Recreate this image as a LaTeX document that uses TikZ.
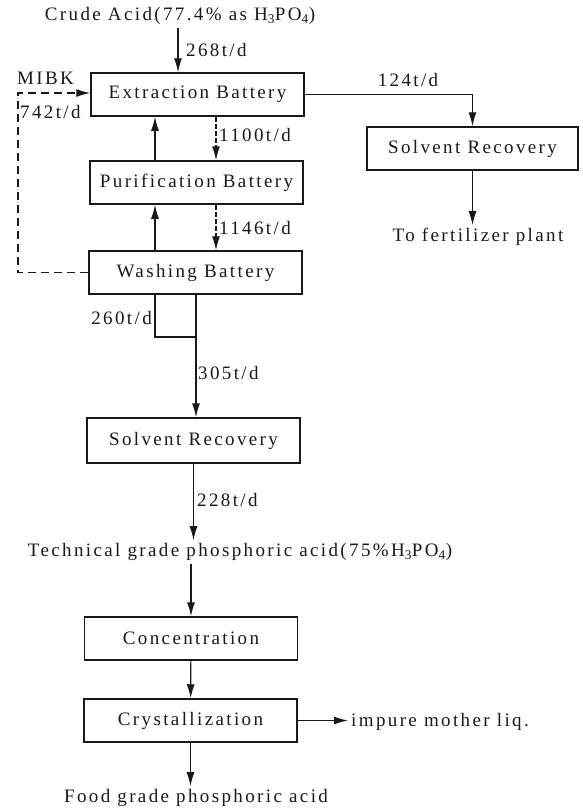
\documentclass[tikz,border=0pt]{standalone}
\usepackage{fontspec}
\setmainfont{Liberation Serif}[LetterSpace=12.5]
\usetikzlibrary{arrows.meta}
\newlength{\du}
\setlength{\du}{1\unitlength}
\definecolor{dialinecolor}{rgb}{0.100000, 0.100000, 0.100000}

\begin{document}
\begin{tikzpicture}[
  font=\fontsize{19}{22}\selectfont,
  every node/.style={text=dialinecolor},
  unitbox/.style={draw=dialinecolor,line width=1.5\du,minimum width=213\du,minimum height=43\du,inner sep=0pt},
  flowtext/.style={inner sep=3\du},
  flowlabel/.style={inner sep=1\du},
  flowline/.style={draw=dialinecolor,line width=1.2\du},
  flowarrow/.style={flowline,-{Latex[length=14pt,width=8pt]}},
  solventline/.style={flowarrow,dash pattern=on 8\du off 5\du},
  splitline/.style={flowarrow,dash pattern=on 5\du off 2\du}
]
\pgftransformxscale{1.000000}
\pgftransformyscale{-1.000000}
\useasboundingbox (0\du,0\du) rectangle (583\du,811\du);
% units
\node[unitbox] (extr) at (197.5\du,94.5\du) {Extraction Battery};
\node[unitbox] (purif) at (196.5\du,182.5\du) {Purification Battery};
\node[unitbox] (wash) at (195.5\du,272.5\du) {Washing Battery};
\node[unitbox,minimum width=211\du] (solrecA) at (472.5\du,148.5\du) {Solvent Recovery};
\node[unitbox,minimum height=45\du] (solrecB) at (193.5\du,440.5\du) {Solvent Recovery};
\node[unitbox] (conc) at (191\du,638.5\du) {Concentration};
\node[unitbox] (cryst) at (190.5\du,720.5\du) {Crystallization};
% streams in and out
\node[flowtext] (crude) at (180\du,16\du) {Crude Acid(77.4\% as H\textsubscript{3}PO\textsubscript{4})};
\node[flowtext,anchor=west] (mibk) at (14\du,78\du) {MIBK};
\node[flowtext] (fert) at (478\du,237\du) {To fertilizer plant};
\node[flowtext] (tech) at (240\du,552\du) {Technical grade phosphoric acid(75\%H\textsubscript{3}PO\textsubscript{4})};
\node[flowtext] (food) at (196\du,798\du) {Food grade phosphoric acid};
\node[flowtext,anchor=west] (impure) at (348\du,722\du) {impure mother liq.};
% flow rates
\node[flowlabel,anchor=west] (q268) at (185\du,50\du) {268t/d};
\node[flowlabel,anchor=west] (q742) at (19\du,112\du) {742t/d};
\node[flowlabel] (q124) at (408\du,80\du) {124t/d};
\node[flowlabel,anchor=west] (q1100) at (218\du,135\du) {1100t/d};
\node[flowlabel,anchor=west] (q1146) at (218\du,228\du) {1146t/d};
\node[flowlabel,anchor=east] (q260) at (153\du,318\du) {260t/d};
\node[flowlabel,anchor=west] (q305) at (197\du,373\du) {305t/d};
\node[flowlabel,anchor=west] (q228) at (196\du,500\du) {228t/d};
\coordinate (crudex) at (178\du,0\du);
\coordinate (upx) at (155\du,0\du);
\coordinate (dnx) at (216\du,0\du);
\coordinate (outx) at (196\du,0\du);
\coordinate (merge) at (196\du,337\du);
\coordinate (mibkin) at (18\du,93\du);
% connectors
\draw[flowarrow] (crude.south -| crudex) -- (extr.north -| crudex);
\draw[solventline] (wash.west) -| (mibkin) -- (mibkin -| extr.west);
\draw[flowarrow] (extr.east) -| (solrecA.north);
\draw[flowarrow] (solrecA.south) -- (solrecA.south |- fert.north);
\draw[splitline] (extr.south -| dnx) -- (purif.north -| dnx);
\draw[splitline] (purif.south -| dnx) -- (wash.north -| dnx);
\draw[flowarrow] (purif.north -| upx) -- (extr.south -| upx);
\draw[flowarrow] (wash.north -| upx) -- (purif.south -| upx);
\draw[flowline] (wash.south -| upx) |- (merge);
\draw[flowarrow] (wash.south -| outx) -- (solrecB.north -| outx);
\draw[flowarrow] (solrecB.south) -- (solrecB.south |- tech.north);
\draw[flowarrow] (tech.south -| conc.north) -- (conc.north);
\draw[flowarrow] (conc) -- (cryst);
\draw[flowarrow] (cryst.south) -- (cryst.south |- food.north);
\draw[flowarrow] (cryst.east) -- (cryst.east -| impure.west);
\end{tikzpicture}
\end{document}
